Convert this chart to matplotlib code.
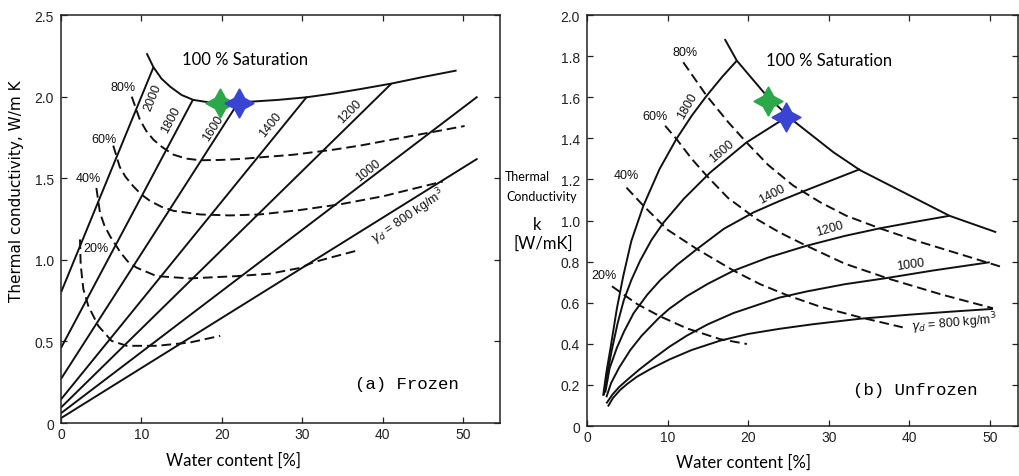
import matplotlib
matplotlib.use("Agg")
import matplotlib.pyplot as plt

# ---- values ----
WATER_TICKS = [0, 10, 20, 30, 40, 50]
WATER_LABELS = ["0", "10", "20", "30", "40", "50"]
FROZEN_K_TICKS = [0, 0.5, 1.0, 1.5, 2.0, 2.5]
FROZEN_K_LABELS = ["0", "0.5", "1.0", "1.5", "2.0", "2.5"]
UNFROZEN_K_TICKS = [0, 0.2, 0.4, 0.6, 0.8, 1.0, 1.2, 1.4, 1.6, 1.8, 2.0]
UNFROZEN_K_LABELS = ["0", "0.2", "0.4", "0.6", "0.8", "1.0", "1.2", "1.4", "1.6", "1.8", "2.0"]

DENSITIES = [2000, 1800, 1600, 1400, 1200, 1000, 800]

# (a) frozen: dry density lines are straight, start/end points
frozen_w_start = [0, 0, 0, 0, 0, 0, 0]
frozen_k_start = [0.80, 0.46, 0.27, 0.145, 0.095, 0.06, 0.03]
frozen_w_end = [11.5, 16.4, 22.0, 30.6, 41.1, 51.8, 51.8]
frozen_k_end = [2.18, 1.98, 1.96, 2.00, 2.08, 2.00, 1.62]

frozen_sat100_w = [10.65, 11.5, 12.5, 13.6, 15.0, 16.45, 18.5, 21.0, 23.9, 27.0, 30.55, 34.0, 37.2, 41.1, 45.0, 49.2]
frozen_sat100_k = [2.266, 2.18, 2.11, 2.06, 2.01, 1.98, 1.964, 1.962, 1.97, 1.98, 1.996, 2.02, 2.046, 2.08, 2.12, 2.16]

frozen_sat80_w = [8.8, 9.3, 9.8, 10.6, 11.5, 12.6, 14.0, 15.6, 17.3, 19.8, 22.3, 28.9, 33.9, 37.2, 42.2, 50.2]
frozen_sat80_k = [2.00, 1.93, 1.86, 1.79, 1.736, 1.69, 1.644, 1.62, 1.61, 1.612, 1.618, 1.644, 1.675, 1.70, 1.746, 1.82]
frozen_sat60_w = [6.5, 7.3, 8.0, 9.0, 10.0, 11.1, 12.5, 14.0, 17.3, 21.0, 24.75, 29.7, 34.7, 40.1, 44.2, 47.5]
frozen_sat60_k = [1.70, 1.57, 1.51, 1.45, 1.40, 1.36, 1.325, 1.30, 1.278, 1.272, 1.278, 1.305, 1.34, 1.39, 1.44, 1.48]
frozen_sat40_w = [4.4, 4.85, 5.4, 6.1, 7.4, 8.3, 9.4, 11.9, 16.0, 21.85, 26.0, 29.7, 31.4, 34.0, 36.7]
frozen_sat40_k = [1.44, 1.288, 1.21, 1.145, 1.045, 0.99, 0.952, 0.90, 0.886, 0.90, 0.915, 0.95, 0.985, 1.02, 1.055]
frozen_sat20_w = [2.36, 2.45, 2.78, 3.4, 4.64, 6.3, 8.2, 11.9, 16.0, 19.8]
frozen_sat20_k = [1.125, 0.97, 0.82, 0.717, 0.595, 0.503, 0.473, 0.473, 0.493, 0.534]

# (b) unfrozen: dry density curves
unfrozen_1800_w = [2.0, 2.4, 2.9, 3.7, 4.5, 5.5, 7.0, 9.0, 11.1, 13.0, 14.85, 16.8, 18.6]
unfrozen_1800_k = [0.147, 0.26, 0.375, 0.57, 0.73, 0.90, 1.072, 1.25, 1.397, 1.51, 1.607, 1.70, 1.778]
unfrozen_1600_w = [2.1, 2.5, 3.1, 3.8, 4.55, 5.5, 6.6, 8.0, 9.5, 12.0, 15.3, 19.8, 24.4]
unfrozen_1600_k = [0.15, 0.25, 0.374, 0.50, 0.61, 0.71, 0.805, 0.905, 0.99, 1.105, 1.234, 1.38, 1.494]
unfrozen_1400_w = [2.27, 2.8, 3.7, 4.6, 5.8, 7.5, 9.1, 11.2, 13.65, 17.0, 20.7, 23.9, 27.7, 33.9]
unfrozen_1400_k = [0.163, 0.28, 0.38, 0.46, 0.55, 0.64, 0.71, 0.785, 0.861, 0.96, 1.04, 1.095, 1.155, 1.25]
unfrozen_1200_w = [2.4, 3.0, 4.0, 5.38, 6.8, 8.9, 10.2, 12.4, 15.0, 18.2, 22.5, 27.25, 32.0, 36.35, 40.5, 45.0]
unfrozen_1200_k = [0.14, 0.21, 0.285, 0.37, 0.44, 0.525, 0.57, 0.632, 0.692, 0.756, 0.82, 0.877, 0.925, 0.962, 0.992, 1.023]
unfrozen_1000_w = [2.4, 3.2, 4.0, 5.0, 6.5, 8.3, 10.2, 12.4, 15.0, 18.2, 23.9, 27.3, 32.0, 37.2, 43.0, 50.0]
unfrozen_1000_k = [0.11, 0.155, 0.19, 0.225, 0.275, 0.33, 0.385, 0.44, 0.495, 0.55, 0.625, 0.655, 0.69, 0.72, 0.757, 0.797]
unfrozen_800_w = [2.6, 3.2, 4.1, 5.0, 6.2, 8.0, 10.3, 13.0, 16.5, 20.0, 23.9, 28.0, 33.9, 40.1, 45.0, 50.4]
unfrozen_800_k = [0.095, 0.135, 0.175, 0.205, 0.24, 0.28, 0.325, 0.37, 0.415, 0.448, 0.473, 0.495, 0.522, 0.542, 0.556, 0.57]

unfrozen_sat100_w = [17.1, 18.6, 20.5, 22.3, 25.6, 30.6, 33.9, 40.1, 45.0, 50.8]
unfrozen_sat100_k = [1.883, 1.778, 1.69, 1.607, 1.486, 1.332, 1.245, 1.121, 1.023, 0.943]
unfrozen_sat80_w = [11.95, 14.85, 17.5, 19.8, 22.5, 25.6, 28.9, 32.2, 36.35, 41.0, 46.0, 51.65]
unfrozen_sat80_k = [1.77, 1.607, 1.48, 1.38, 1.27, 1.17, 1.09, 1.023, 0.962, 0.90, 0.84, 0.772]
unfrozen_sat60_w = [9.7, 11.1, 13.0, 14.85, 17.5, 21.05, 24.0, 27.25, 32.0, 37.6, 44.0, 50.4]
unfrozen_sat60_k = [1.461, 1.397, 1.30, 1.218, 1.11, 1.007, 0.94, 0.877, 0.79, 0.715, 0.64, 0.573]
unfrozen_sat40_w = [4.9, 7.0, 10.0, 13.65, 18.2, 21.5, 25.0, 29.0, 33.9, 39.2]
unfrozen_sat40_k = [1.16, 1.072, 0.955, 0.861, 0.756, 0.69, 0.634, 0.58, 0.529, 0.48]
unfrozen_sat20_w = [3.1, 6.2, 9.0, 12.4, 16.5, 19.85]
unfrozen_sat20_k = [0.68, 0.594, 0.535, 0.475, 0.423, 0.399]

# marked soil states (green / blue stars)
frozen_star_w = [19.8, 22.2]
frozen_star_k = [1.96, 1.96]
unfrozen_star_w = [22.5, 24.7]
unfrozen_star_k = [1.583, 1.502]
STAR_COLORS = ["#2aa84a", "#3a44d2"]

LINE = dict(color="#111111", lw=1.4, solid_capstyle="butt")
DASH = dict(color="#111111", lw=1.4, linestyle=(0, (5, 2.5)))
SCAN_FONT = "Liberation Sans"
CAL_FONT = "Lato"


def style_axes(ax, xmax, ymax, yticks, ylabels):
    ax.set_xlim(0, xmax)
    ax.set_ylim(0, ymax)
    ax.set_xticks(WATER_TICKS)
    ax.set_xticklabels(WATER_LABELS, family=SCAN_FONT, fontsize=10)
    ax.set_yticks(yticks)
    ax.set_yticklabels(ylabels, family=SCAN_FONT, fontsize=10)
    ax.tick_params(direction="in", length=4, width=0.9, top=True, right=True,
                   pad=5, colors="#222222")
    ax.tick_params(axis="x", pad=3)
    for s in ax.spines.values():
        s.set_linewidth(1.1)
        s.set_color("#222222")


def label(ax, x, y, s, rot=0, size=9, **kw):
    ax.text(x, y, s, rotation=rot, rotation_mode="anchor", ha="center",
            va="center", fontsize=size, family=SCAN_FONT, color="#111111", **kw)


fig = plt.figure(figsize=(10.2, 4.77), dpi=100)
ax1 = fig.add_axes([0.0598, 0.1111, 0.4304, 0.8553])
ax2 = fig.add_axes([0.5755, 0.1048, 0.4225, 0.8616])

# ---------------- (a) Frozen ----------------
for i in range(len(DENSITIES)):
    ax1.plot([frozen_w_start[i], frozen_w_end[i]],
             [frozen_k_start[i], frozen_k_end[i]], **LINE)
ax1.plot(frozen_sat100_w, frozen_sat100_k, **LINE)
ax1.plot(frozen_sat80_w, frozen_sat80_k, **DASH)
ax1.plot(frozen_sat60_w, frozen_sat60_k, **DASH)
ax1.plot(frozen_sat40_w, frozen_sat40_k, **DASH)
ax1.plot(frozen_sat20_w, frozen_sat20_k, **DASH)

label(ax1, 7.75, 2.06, "80%")
label(ax1, 5.3, 1.74, "60%")
label(ax1, 3.4, 1.50, "40%")
label(ax1, 4.3, 1.07, "20%")
label(ax1, 11.4, 2.0, "2000", rot=68)
label(ax1, 13.7, 1.86, "1800", rot=62)
label(ax1, 18.9, 1.81, "1600", rot=57)
label(ax1, 26.0, 1.83, "1400", rot=51)
label(ax1, 35.9, 1.91, "1200", rot=45)
label(ax1, 38.2, 1.55, "1000", rot=38)
label(ax1, 43.2, 1.27, r"$\gamma_d$ = 800 kg/m$^3$", rot=34)

ax1.text(22.9, 2.23, "100 % Saturation", ha="center", va="center",
         fontsize=12, family=CAL_FONT)
ax1.text(43.0, 0.24, "(a) Frozen", ha="center", va="center",
         fontsize=12.5, family="Liberation Mono")
for j in range(len(frozen_star_w)):
    ax1.plot(frozen_star_w[j], frozen_star_k[j], marker=(4, 1, 0),
             markersize=21, color=STAR_COLORS[j], mec=STAR_COLORS[j], zorder=5)

style_axes(ax1, 54.6, 2.5, FROZEN_K_TICKS, FROZEN_K_LABELS)
ax1.set_ylabel("Thermal conductivity, W/m K", family="DejaVu Sans", fontsize=11)
ax1.yaxis.set_label_coords(-0.085, 0.57)
ax1.set_xlabel("Water content [%]", family=CAL_FONT, fontsize=12)
ax1.xaxis.set_label_coords(0.392, -0.07)

# ---------------- (b) Unfrozen ----------------
ax2.plot(unfrozen_1800_w, unfrozen_1800_k, **LINE)
ax2.plot(unfrozen_1600_w, unfrozen_1600_k, **LINE)
ax2.plot(unfrozen_1400_w, unfrozen_1400_k, **LINE)
ax2.plot(unfrozen_1200_w, unfrozen_1200_k, **LINE)
ax2.plot(unfrozen_1000_w, unfrozen_1000_k, **LINE)
ax2.plot(unfrozen_800_w, unfrozen_800_k, **LINE)
ax2.plot(unfrozen_sat100_w, unfrozen_sat100_k, **LINE)
ax2.plot(unfrozen_sat80_w, unfrozen_sat80_k, **DASH)
ax2.plot(unfrozen_sat60_w, unfrozen_sat60_k, **DASH)
ax2.plot(unfrozen_sat40_w, unfrozen_sat40_k, **DASH)
ax2.plot(unfrozen_sat20_w, unfrozen_sat20_k, **DASH)

label(ax2, 12.2, 1.82, "80%")
label(ax2, 8.4, 1.51, "60%")
label(ax2, 4.9, 1.22, "40%")
label(ax2, 2.1, 0.735, "20%")
label(ax2, 12.5, 1.56, "1800", rot=60)
label(ax2, 16.7, 1.34, "1600", rot=40)
label(ax2, 23.0, 1.13, "1400", rot=28)
label(ax2, 30.1, 0.96, "1200", rot=16)
label(ax2, 40.2, 0.79, "1000", rot=8)
label(ax2, 45.6, 0.505, r"$\gamma_d$ = 800 kg/m$^3$", rot=5)

ax2.text(30.1, 1.78, "100 % Saturation", ha="center", va="center",
         fontsize=12, family=CAL_FONT)
ax2.text(40.7, 0.18, "(b) Unfrozen", ha="center", va="center",
         fontsize=12.5, family="Liberation Mono")
for j in range(len(unfrozen_star_w)):
    ax2.plot(unfrozen_star_w[j], unfrozen_star_k[j], marker=(4, 1, 0),
             markersize=21, color=STAR_COLORS[j], mec=STAR_COLORS[j], zorder=5)

style_axes(ax2, 53.5, 2.0, UNFROZEN_K_TICKS, UNFROZEN_K_LABELS)
ax2.set_xlabel("Water content [%]", family=CAL_FONT, fontsize=12)
ax2.xaxis.set_label_coords(0.362, -0.068)

fig.text(527 / 1020, 1 - 177 / 477, "Thermal", ha="center", va="center",
         fontsize=9, family=CAL_FONT)
fig.text(542 / 1020, 1 - 197 / 477, "Conductivity", ha="center", va="center",
         fontsize=9, family=CAL_FONT)
fig.text(537 / 1020, 1 - 225 / 477, "k", ha="center", va="center",
         fontsize=12, family=CAL_FONT)
fig.text(543 / 1020, 1 - 244 / 477, "[W/mK]", ha="center", va="center",
         fontsize=12, family=CAL_FONT)

fig.savefig("out.png", dpi=100, facecolor="white")
